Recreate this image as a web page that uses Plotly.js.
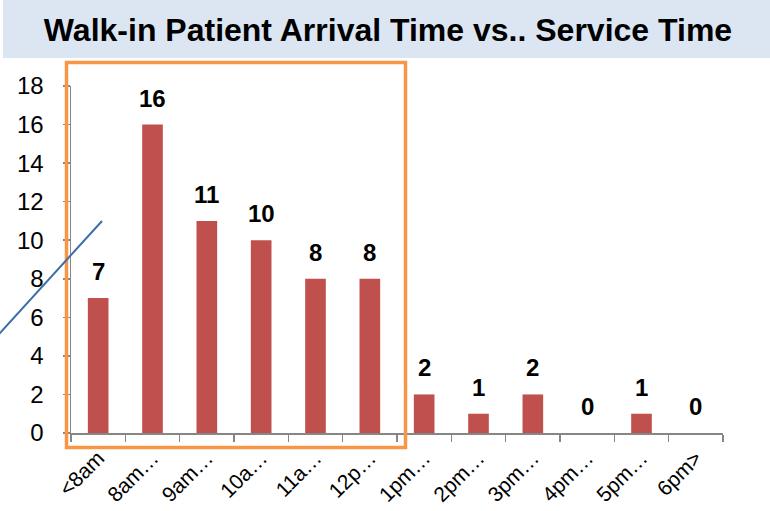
<!DOCTYPE html>
<html>
<head>
<meta charset="utf-8">
<script src="https://cdn.plot.ly/plotly-3.0.1.min.js"></script>
<style>
html,body{margin:0;padding:0;background:#fff;}
#chart{width:770px;height:511px;}
</style>
</head>
<body>
<div id="chart"></div>
<script>
const categories = ["<8am","8am…","9am…","10a…","11a…","12p…","1pm…","2pm…","3pm…","4pm…","5pm…","6pm>"];
const patients = [7,16,11,10,8,8,2,1,2,0,1,0];
const yTicks = [0,2,4,6,8,10,12,14,16,18];
const chartTitle = "Walk-in Patient Arrival Time vs.. Service Time";

const W = 770, H = 511;
const L = 71, R = 723, T = 86, B = 433;
const xp = px => (px - L) / (R - L);
const yp = py => (B - py) / (B - T);
const FONT = 'Liberation Sans, Arial, sans-serif';

const trace = {
  type: 'bar',
  x: categories,
  y: patients,
  marker: {color: '#c0504d', line: {width: 0}},
  hoverinfo: 'x+y'
};

const annotations = categories.map((c, i) => ({
  x: c, y: patients[i], xref: 'x', yref: 'y',
  text: '<b>' + String(patients[i]) + '</b>',
  showarrow: false, yanchor: 'bottom', yshift: 11,
  font: {family: FONT, size: 24, color: '#000'}
}));

const layout = {
  width: W, height: H,
  margin: {l: L, r: W - R, t: T, b: H - B, pad: 0},
  paper_bgcolor: '#ffffff', plot_bgcolor: '#ffffff',
  showlegend: false,
  bargap: 0.62,
  font: {family: FONT, color: '#000'},
  title: {
    text: '<b>' + chartTitle + '</b>',
    font: {family: FONT, size: 32, color: '#000'},
    x: 388 / W, xanchor: 'center', xref: 'container',
    y: 1 - 30 / H, yanchor: 'middle', yref: 'container'
  },
  xaxis: {
    type: 'category',
    showline: true, linecolor: '#868686', linewidth: 1.5,
    ticks: 'outside', tickson: 'boundaries', ticklen: 7, tickcolor: '#868686', tickwidth: 1.5,
    tickangle: -45,
    ticklabelstandoff: 3,
    tickfont: {family: FONT, size: 21, color: '#000'},
    showgrid: false, zeroline: false, fixedrange: true
  },
  yaxis: {
    range: [0, 18],
    tickvals: yTicks,
    showline: true, linecolor: '#868686', linewidth: 1.5,
    ticks: 'outside', ticklen: 7, tickcolor: '#868686', tickwidth: 1.5,
    ticklabelstandoff: 14,
    tickfont: {family: FONT, size: 24, color: '#000'},
    showgrid: false, zeroline: false, fixedrange: true
  },
  shapes: [
    {type: 'rect', xref: 'paper', yref: 'paper', layer: 'below',
     x0: xp(3), x1: xp(772), y0: yp(58), y1: yp(-2),
     fillcolor: '#dce6f2', line: {width: 0}},
    {type: 'rect', xref: 'paper', yref: 'paper', layer: 'above',
     x0: xp(66.5), x1: xp(405.5), y0: yp(447.5), y1: yp(62.5),
     fillcolor: 'rgba(0,0,0,0)', line: {color: '#f79646', width: 3.5}},
    {type: 'line', xref: 'paper', yref: 'paper', layer: 'above',
     x0: xp(-1), y0: yp(334), x1: xp(102), y1: yp(221),
     line: {color: '#3d6ea8', width: 2}}
  ],
  annotations: annotations
};

Plotly.newPlot('chart', [trace], layout, {displayModeBar: false, staticPlot: true});
</script>
</body>
</html>
